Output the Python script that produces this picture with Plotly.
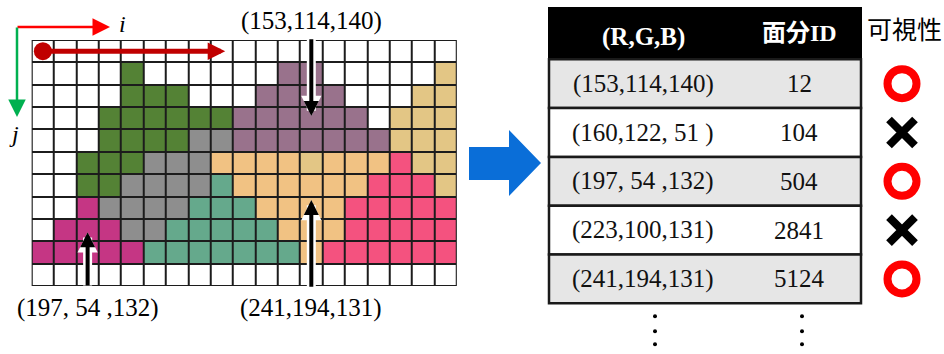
import plotly.graph_objects as go

# face colour of every pixel cell, row j (top to bottom), column i (left to right)
face_rows = [
    "...................",
    "....g......pp.....t",
    "....ggg...pppp...tt",
    "...ggggggpppppp.ttt",
    "...ggggkkpppppppttt",
    "..gggkkkooootooortt",
    "..ggkkkkcoooooorrrt",
    "..mkkkkcccoooorrrrr",
    ".mmmkkcccccooorrrrr",
    "mmmmmcccccccorrrrrr",
    "...................",
]
face_colors = {
    ".": "#ffffff",
    "g": "#548235",
    "k": "#8e8e8e",
    "p": "#99728c",
    "o": "#f1c283",
    "t": "#e3c685",
    "c": "#65a98c",
    "m": "#c53684",
    "r": "#f4527f",
}

# callout labels: text, column, row of the arrow tip, row of the arrow tail
callout_text = ["(153,114,140)", "(197, 54 ,132)", "(241,194,131)"]
callout_col = [12, 2, 12]
callout_tip = [2.9, 8.1, 6.65]
callout_tail = [-0.6, 10.55, 10.6]

# lookup table
rgb_labels = ["(153,114,140)", "(160,122, 51 )", "(197, 54 ,132)", "(223,100,131)", "(241,194,131)"]
face_ids = ["12", "104", "504", "2841", "5124"]
visible = [True, False, True, False, True]

codes = list(face_colors)
n = len(codes)
z = [[codes.index(ch) for ch in row] for row in face_rows]
scale = []
for k, c in enumerate(face_colors.values()):
    scale += [[k / n, c], [(k + 1) / n, c]]

W, H = 944, 354
gx0, gx1, gy0, gy1 = 31.7, 456.7, 40, 286
ncol, nrow = len(face_rows[0]), len(face_rows)

fig = go.Figure()
fig.add_trace(go.Heatmap(z=z, colorscale=scale, zmin=-0.5, zmax=n - 0.5, showscale=False,
                         xgap=2, ygap=2, hoverinfo="skip"))

# red scan arrow along the first row
fig.add_trace(go.Scatter(x=[0], y=[0], mode="markers",
                         marker=dict(size=18, color="#c00000", opacity=1), hoverinfo="skip"))

serif = "Liberation Serif"
ann = []
ann.append(dict(x=8.15, y=0, ax=0, ay=0, xref="x", yref="y", axref="x", ayref="y", text="",
                showarrow=True, arrowhead=2, arrowsize=0.7, arrowwidth=5, arrowcolor="#c00000"))

for txt, col, tip, tail in zip(callout_text, callout_col, callout_tip, callout_tail):
    for colr, w, s in [("white", 9, 0.45), ("black", 4, 0.75)]:
        ann.append(dict(x=col, y=tip, ax=col, ay=tail, xref="x", yref="y", axref="x", ayref="y",
                        text="", showarrow=True, arrowhead=2, arrowsize=s, arrowwidth=w,
                        arrowcolor=colr))
    ly = 21 if tail < 0 else 308
    ann.append(dict(x=col, y=ly, xref="x", yref="y2", text=txt, showarrow=False,
                    font=dict(family=serif, size=25, color="black")))

# i / j axis arrows
ann.append(dict(x=110, y=27, ax=16, ay=27, xref="x2", yref="y2", axref="x2", ayref="y2", text="",
                showarrow=True, arrowhead=2, arrowsize=1.4, arrowwidth=2.5, arrowcolor="#ff0000"))
ann.append(dict(x=17, y=117, ax=17, ay=26, xref="x2", yref="y2", axref="x2", ayref="y2", text="",
                showarrow=True, arrowhead=2, arrowsize=1.4, arrowwidth=2.5, arrowcolor="#00b050"))
ann.append(dict(x=122, y=24, xref="x2", yref="y2", text="<i>i</i>", showarrow=False,
                font=dict(family=serif, size=24, color="black")))
ann.append(dict(x=14, y=134, xref="x2", yref="y2", text="<i>j</i>", showarrow=False,
                font=dict(family=serif, size=24, color="black")))

shapes = [
    dict(type="rect", xref="x", yref="y", x0=-0.5, x1=ncol - 0.5, y0=-0.5, y1=nrow - 0.5,
         fillcolor="#1c1c1c", line=dict(color="#1c1c1c", width=2), layer="below"),
    dict(type="path", xref="x2", yref="y2",
         path="M469,147 L509,147 L509,130 L541,163 L509,196 L509,180 L469,180 Z",
         fillcolor="#0a6ed8", line=dict(width=0)),
]

# table
tx0, tx1 = 549, 861
top, head_h, row_h = 8, 51.3, 48.8
col_rgb, col_id, col_vis = 643, 799, 902
shapes.append(dict(type="rect", xref="x2", yref="y2", x0=tx0, x1=tx1, y0=top, y1=top + head_h,
                   fillcolor="black", line=dict(color="black", width=2)))
row_y = []
for r in range(len(rgb_labels)):
    y0 = top + head_h + r * row_h
    row_y.append(y0 + row_h / 2)
    shapes.append(dict(type="rect", xref="x2", yref="y2", x0=tx0, x1=tx1, y0=y0, y1=y0 + row_h,
                       fillcolor="#e6e6e6" if r % 2 == 0 else "white",
                       line=dict(color="#1a1a1a", width=2.5)))

ann.append(dict(x=col_rgb, y=top + 29, xref="x2", yref="y2", text="<b>(R,G,B)</b>", showarrow=False,
                font=dict(family=serif, size=25, color="white")))
ann.append(dict(x=col_id, y=top + 25, xref="x2", yref="y2", text="<b>面分ID</b>", showarrow=False,
                font=dict(family=serif + ", Noto Sans CJK JP", size=24, color="white")))
ann.append(dict(x=904, y=28, xref="x2", yref="y2", text="可視性", showarrow=False,
                font=dict(family="Noto Sans CJK JP", size=25, color="black")))
for lab, fid, y in zip(rgb_labels, face_ids, row_y):
    ann.append(dict(x=col_rgb, y=y, xref="x2", yref="y2", text=lab, showarrow=False,
                    font=dict(family=serif, size=25, color="#111")))
    ann.append(dict(x=col_id, y=y, xref="x2", yref="y2", text=fid, showarrow=False,
                    font=dict(family=serif, size=25, color="#111")))

fig.add_trace(go.Scatter(
    x=[col_vis] * len(visible), y=row_y, xaxis="x2", yaxis="y2", mode="markers",
    marker=dict(symbol=["circle-open" if v else "x-thin-open" for v in visible],
                size=[29 if v else 26 for v in visible],
                color=["#ff0000" if v else "#000000" for v in visible],
                opacity=1, line=dict(width=8)),
    hoverinfo="skip"))

# vertical ellipsis under the table
tbot = top + head_h + len(rgb_labels) * row_h
dots_y = [tbot + 13, tbot + 28, tbot + 41]
fig.add_trace(go.Scatter(x=[655] * 3 + [802] * 3, y=dots_y * 2, xaxis="x2", yaxis="y2",
                         mode="markers", marker=dict(size=4, color="black", opacity=1),
                         hoverinfo="skip"))

fig.update_layout(
    width=W, height=H, margin=dict(l=0, r=0, t=0, b=0),
    paper_bgcolor="white", plot_bgcolor="rgba(0,0,0,0)", showlegend=False,
    xaxis=dict(domain=[gx0 / W, gx1 / W], range=[-0.5, ncol - 0.5], visible=False, fixedrange=True),
    yaxis=dict(domain=[1 - gy1 / H, 1 - gy0 / H], range=[nrow - 0.5, -0.5], visible=False,
               fixedrange=True),
    xaxis2=dict(domain=[0, 1], range=[0, W], visible=False, anchor="y2", fixedrange=True),
    yaxis2=dict(domain=[0, 1], range=[H, 0], visible=False, anchor="x2", fixedrange=True),
    annotations=ann, shapes=shapes,
)

fig.write_html("out.html", config={"displayModeBar": False},
               post_script="document.body.style.margin='0';")
